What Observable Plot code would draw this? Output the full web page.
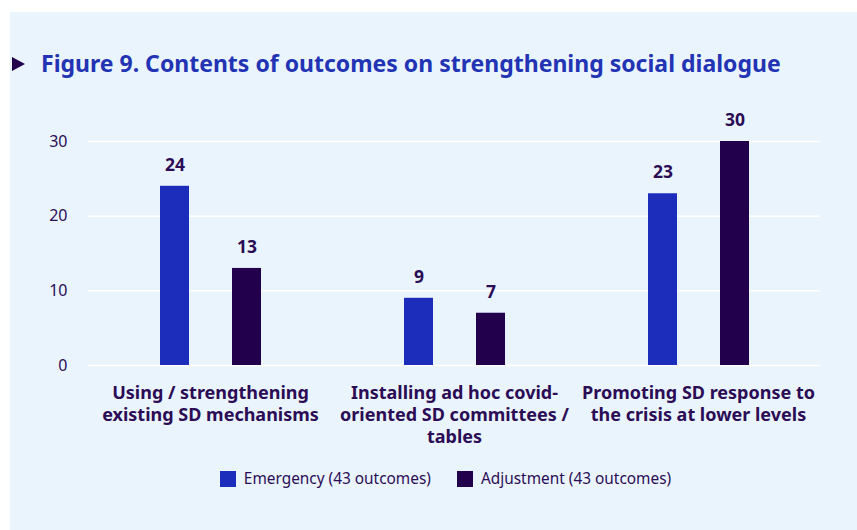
<!DOCTYPE html>
<html>
<head>
<meta charset="utf-8">
<script src="https://cdn.jsdelivr.net/npm/d3@7"></script>
<script src="https://cdn.jsdelivr.net/npm/@observablehq/plot@0.6"></script>
<style>
  html, body { margin: 0; padding: 0; background: #ffffff; width: 857px; height: 530px; overflow: hidden; font-family: "Noto Sans", sans-serif; }
  #panel { position: absolute; left: 10px; top: 12px; right: 0; bottom: 0; background: #eaf4fd; }
  #title { position: absolute; left: 12px; top: 47px; white-space: nowrap; font-size: 23px; font-weight: 700; color: #2233b4; }
  #title .tri { display: inline-block; width: 0; height: 0; border-top: 7px solid transparent; border-bottom: 7px solid transparent; border-left: 13px solid #23004c; margin-right: 16px; vertical-align: 1px; }
  #chart { position: absolute; left: 0; top: 100px; }
  #legend { position: absolute; top: 468px; left: 17px; width: 857px; display: flex; justify-content: center; font-size: 15.4px; color: #2b0c55; }
  #legend .item { display: flex; align-items: center; margin: 0 13px; }
  #legend .sw { width: 16px; height: 16px; margin-right: 8px; }
</style>
</head>
<body>
<div id="panel"></div>
<div id="title"><span class="tri"></span>Figure 9. Contents of outcomes on strengthening social dialogue</div>
<div id="chart"></div>
<div id="legend"></div>
<script>
const categories = [
  "Using / strengthening existing SD mechanisms",
  "Installing ad hoc covid-oriented SD committees / tables",
  "Promoting SD response to the crisis at lower levels"
];
const categoryLabels = [
  "Using / strengthening\nexisting SD mechanisms",
  "Installing ad hoc covid-\noriented SD committees /\ntables",
  "Promoting SD response to\nthe crisis at lower levels"
];
const series = ["Emergency (43 outcomes)", "Adjustment (43 outcomes)"];
const emergency = [24, 9, 23];
const adjustment = [13, 7, 30];
const yTicks = [0, 10, 20, 30];
const colors = ["#1c2cbb", "#23004c"];

const data = [];
categories.forEach((c, i) => {
  data.push({category: c, series: series[0], value: emergency[i]});
  data.push({category: c, series: series[1], value: adjustment[i]});
});
const labelMap = new Map(categories.map((c, i) => [c, categoryLabels[i]]));

const chart = Plot.plot({
  width: 857,
  height: 360,
  marginLeft: 87,
  marginRight: 37,
  marginTop: 41,
  marginBottom: 95,
  style: {background: "transparent", fontFamily: "Noto Sans", fontSize: "16px", color: "#2b0c55", overflow: "visible"},
  fx: {domain: categories, padding: 0},
  x: {domain: series, paddingInner: 0.6, paddingOuter: 0.98, axis: null},
  y: {domain: [0, 30]},
  color: {domain: series, range: colors},
  marks: [
    Plot.ruleY(yTicks, {stroke: "#ffffff", strokeWidth: 1.5}),
    Plot.barY(data, {fx: "category", x: "series", y: "value", fill: "series"}),
    Plot.text(data, {fx: "category", x: "series", y: "value", text: d => String(d.value), dy: -21, lineAnchor: "middle", fontWeight: "bold", fontSize: 17.5, fill: "#2b0c55"}),
    Plot.axisY({ticks: yTicks, tickSize: 0, tickPadding: 21, fontSize: 16, label: null}),
    Plot.axisFx({anchor: "bottom", tickSize: 0, tickPadding: 18, fontSize: 18, fontWeight: "bold", lineHeight: 1.22, tickFormat: d => labelMap.get(d), label: null})
  ]
});
document.getElementById("chart").appendChild(chart);

const legend = document.getElementById("legend");
series.forEach((s, i) => {
  const item = document.createElement("div");
  item.className = "item";
  const sw = document.createElement("span");
  sw.className = "sw";
  sw.style.background = colors[i];
  const t = document.createElement("span");
  t.textContent = s;
  item.appendChild(sw);
  item.appendChild(t);
  legend.appendChild(item);
});
</script>
</body>
</html>
